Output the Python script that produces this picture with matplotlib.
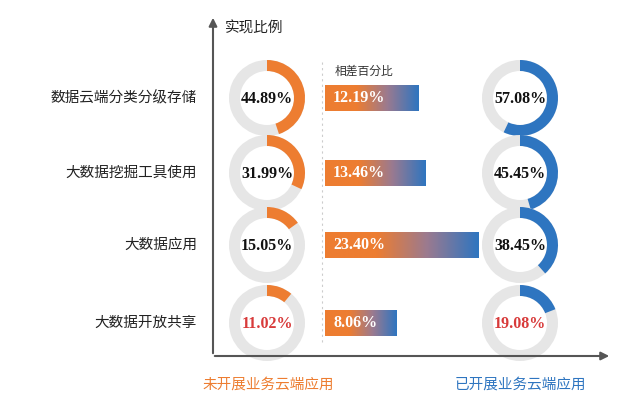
import matplotlib
matplotlib.use("Agg")
import matplotlib.pyplot as plt
import numpy as np
from matplotlib.patches import Wedge
from matplotlib.colors import LinearSegmentedColormap
from matplotlib import font_manager

categories = ["数据云端分类分级存储", "大数据挖掘工具使用", "大数据应用", "大数据开放共享"]
without_cloud = [44.89, 31.99, 15.05, 11.02]
with_cloud = [57.08, 45.45, 38.45, 19.08]
difference = [12.19, 13.46, 23.40, 8.06]
red_row = [False, False, False, True]

ORANGE = "#ED7D31"
BLUE = "#2E75C0"
GRAY = "#E6E6E6"
RED = "#D83A3A"
SERIF = "Liberation Serif"

names = sorted({f.name for f in font_manager.fontManager.ttflist})
CJK = next((n for n in ["Noto Sans CJK SC", "Noto Sans CJK JP", "Noto Sans CJK TC", "Noto Sans CJK KR"] if n in names),
           next((n for n in names if "CJK" in n), "DejaVu Sans"))

fig = plt.figure(figsize=(6.4, 4.08), dpi=100)
ax = fig.add_axes([0, 0, 1, 1])
ax.set_xlim(0, 640)
ax.set_ylim(408, 0)
ax.axis("off")

rows_y = [98, 173, 245, 323]
xl, xr = 267, 520
R, W = 38, 11

ax.annotate("", xy=(213, 15), xytext=(213, 356),
            arrowprops=dict(arrowstyle="-|>", color="#555555", lw=1.5, mutation_scale=12))
ax.annotate("", xy=(612, 356), xytext=(212, 356),
            arrowprops=dict(arrowstyle="-|>", color="#555555", lw=1.5, mutation_scale=12))
ax.plot([322, 322], [62, 345], ls=(0, (2, 3)), color="#cccccc", lw=0.8)

ax.text(225, 28, "实现比例", fontfamily=CJK, fontsize=10.5, va="center", ha="left", color="#222222")
ax.text(335, 71, "相差百分比", fontfamily=CJK, fontsize=8.5, va="center", ha="left", color="#333333")
ax.text(268, 385, "未开展业务云端应用", fontfamily=CJK, fontsize=10.5, va="center", ha="center", color=ORANGE)
ax.text(520, 385, "已开展业务云端应用", fontfamily=CJK, fontsize=10.5, va="center", ha="center", color=BLUE)

cmap = LinearSegmentedColormap.from_list("g", [ORANGE, ORANGE, "#9A7A90", BLUE])
grad = np.linspace(0, 1, 256).reshape(1, -1)

def donut(cx, cy, pct, col, red):
    ax.add_patch(Wedge((cx, cy), R, 0, 360, width=W, facecolor=GRAY, edgecolor="none"))
    ax.add_patch(Wedge((cx, cy), R, -90, -90 + 360 * pct / 100, width=W, facecolor=col, edgecolor="none"))
    ax.text(cx, cy + 1, f"{pct:.2f}%", fontfamily=SERIF, fontweight="bold", fontsize=11.5,
            ha="center", va="center", color=RED if red else "#111111")

for i, cat in enumerate(categories):
    y = rows_y[i]
    ax.text(197, y, cat, fontfamily=CJK, fontsize=10.5, ha="right", va="center", color="#222222")
    donut(xl, y, without_cloud[i], ORANGE, red_row[i])
    donut(xr, y, with_cloud[i], BLUE, red_row[i])
    x0 = 325
    L = 28 + 5.35 * difference[i]
    ax.imshow(grad, cmap=cmap, extent=(x0, x0 + L, y + 13, y - 13), aspect="auto", zorder=2)
    ax.text(x0 + 8, y, f"{difference[i]:.2f}%", fontfamily=SERIF, fontweight="bold", fontsize=11.5,
            ha="left", va="center", color="white", zorder=3)

ax.set_xlim(0, 640)
ax.set_ylim(408, 0)
fig.savefig("out.png", dpi=100)
